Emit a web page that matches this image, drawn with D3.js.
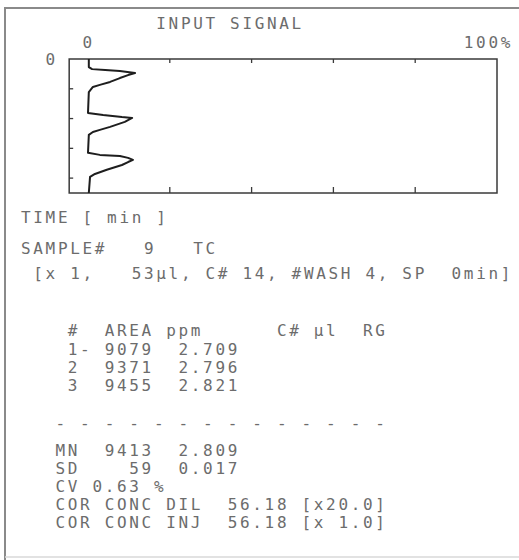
<!DOCTYPE html>
<html>
<head>
<meta charset="utf-8">
<script src="https://cdn.jsdelivr.net/npm/d3@7/dist/d3.min.js"></script>
<style>
  body { margin: 0; background: #fff; }
  svg text { font-family: "DejaVu Sans Mono", monospace; font-size: 16px; fill: #6c6c6c; }
</style>
</head>
<body>
<div id="chart"></div>
<script>
// ------- Data -------
// input signal trace
const timeMin = [0, 0.27, 0.34, 0.37, 0.40, 0.47, 0.54, 0.64, 0.77, 0.87, 0.94, 1.11,
  1.81, 1.88, 1.95, 1.98, 2.11, 2.28, 2.38, 2.45, 2.55,
  3.15, 3.22, 3.26, 3.32, 3.39, 3.46, 3.56, 3.72, 3.86, 3.96, 4.5];
const signalPct = [0.2, 0.2, 1.0, 4.2, 7.8, 11.5, 9.8, 7.8, 5.4, 2.9, 1.2, 0.2,
  0, 3.7, 8.3, 10.8, 9.0, 5.4, 2.9, 1.2, 0.2,
  0, 2.9, 7.8, 9.8, 11.0, 9.8, 8.3, 4.6, 1.7, 0.5, 0.2];

const signalTicks = [20, 40, 60, 80];
const timeTicks = [1, 2, 3, 4];

const replicates = ["1-", "2", "3"];
const areas = ["9079", "9371", "9455"];
const ppmValues = ["2.709", "2.796", "2.821"];

const statLabels = ["MN", "SD"];
const statAreas = ["9413", "59"];
const statPpm = ["2.809", "0.017"];
const cvValue = "0.63";

const corLabels = ["DIL", "INJ"];
const corConc = ["56.18", "56.18"];
const corFactor = ["[x20.0]", "[x 1.0]"];

// ------- Setup -------
const W = 519, H = 560;
const FONT = 16;
const PITCH = 12.3;      // printer character cell
const GX = 21;           // left margin of the text grid
const TX = 55.5;         // left margin of the result table

const svg = d3.select("#chart").append("svg")
  .attr("width", W).attr("height", H);

// page border of the printout
svg.append("path")
  .attr("d", `M5,${H} L5,8 L${W},8`)
  .attr("fill", "none").attr("stroke", "#8a8a8a").attr("stroke-width", 2);
svg.append("line")
  .attr("x1", 5).attr("x2", W).attr("y1", 557).attr("y2", 557)
  .attr("stroke", "#d8d8d8").attr("stroke-width", 1.5);

// ------- Scales -------
const x = d3.scaleLinear().domain([0, 100]).range([88, 497]);
const y = d3.scaleLinear().domain([0, 4.5]).range([59, 193]);
const xMin = -4.6;

// plot frame
svg.append("rect")
  .attr("x", x(xMin)).attr("y", y(0))
  .attr("width", x(100) - x(xMin)).attr("height", y(4.5) - y(0))
  .attr("fill", "none").attr("stroke", "#3a3a3a").attr("stroke-width", 1.5);

// ticks
const tickG = svg.append("g").attr("stroke", "#3a3a3a").attr("stroke-width", 1.3);
signalTicks.forEach(t => {
  tickG.append("line").attr("x1", x(t)).attr("x2", x(t)).attr("y1", y(0)).attr("y2", y(0) + 4);
  tickG.append("line").attr("x1", x(t)).attr("x2", x(t)).attr("y1", y(4.5)).attr("y2", y(4.5) - 6);
});
timeTicks.forEach(t => {
  tickG.append("line").attr("x1", x(xMin)).attr("x2", x(xMin) + 4).attr("y1", y(t)).attr("y2", y(t));
});

// trace
const pts = timeMin.map((t, i) => [signalPct[i], t]);
svg.append("path")
  .datum(pts)
  .attr("fill", "none")
  .attr("stroke", "#1e1e1e")
  .attr("stroke-width", 2)
  .attr("stroke-linejoin", "round")
  .attr("d", d3.line().x(d => x(d[0])).y(d => y(d[1])));

// ------- Text (fixed-pitch printer lines) -------
// advance of DejaVu Sans Mono is 0.602em, pad it up to the printer pitch
const spacing = PITCH - 0.602 * FONT;
function line(x0, yp, s) {
  return svg.append("text")
    .attr("x", x0).attr("y", yp)
    .attr("letter-spacing", spacing)
    .text(s.replace(/ /g, "\u00a0"));
}

line(GX + 11 * PITCH, 29, "INPUT SIGNAL");
line(GX + 5 * PITCH, 48, "0");
line(GX + 36 * PITCH, 48, "100%");
line(GX + 2 * PITCH, 65, "0");

line(GX, 223, "TIME [ min ]");
line(GX, 254, "SAMPLE#   9   TC");
line(GX, 279, " [x 1,   53µl, C# 14, #WASH 4, SP  0min]");

// result table
line(TX, 336, " #  AREA ppm      C# µl  RG");
const rowY = [355, 373, 391];
replicates.forEach((r, i) => {
  line(TX, rowY[i], " " + r.padEnd(2) + " " + areas[i] + "  " + ppmValues[i]);
});

line(TX, 429, "- ".repeat(14).trim());

const statY = [456, 474];
statLabels.forEach((s, i) => {
  line(TX, statY[i], s.padEnd(4) + statAreas[i].padStart(4) + "  " + statPpm[i]);
});
line(TX, 492, "CV " + cvValue + " %");

const corY = [510, 528];
corLabels.forEach((c, i) => {
  line(TX, corY[i], "COR CONC " + c + "  " + corConc[i] + " " + corFactor[i]);
});
</script>
</body>
</html>
